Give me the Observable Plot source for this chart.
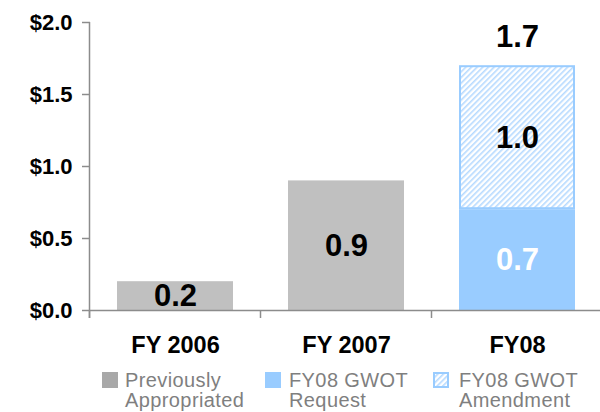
<!DOCTYPE html>
<html><head><meta charset="utf-8">
<script src="https://cdn.jsdelivr.net/npm/d3@7"></script>
<script src="https://cdn.jsdelivr.net/npm/@observablehq/plot@0.6"></script>
<style>
body{margin:0;background:#fff;font-family:"Liberation Sans",Arial,sans-serif;}
#wrap{position:relative;width:600px;height:412px;overflow:hidden;}
#legend{position:absolute;left:0;top:362px;width:600px;height:50px;}
.sw{position:absolute;width:16px;height:16px;top:10px;}
.lt{position:absolute;top:8px;font-size:20px;line-height:20px;letter-spacing:0.4px;color:#7f7f7f;white-space:nowrap;}
</style></head><body>
<div id="wrap"><div id="chart"></div><div id="legend"></div></div>
<script>
// ---- data ----
const categories = ["FY 2006", "FY 2007", "FY08"];
const seriesNames = ["Previously Appropriated", "FY08 GWOT Request", "FY08 GWOT Amendment"];
const previouslyAppropriated = [0.2, 0.9, 0];
const gwotRequest = [0, 0, 0.7];
const gwotAmendment = [0, 0, 1.0];
const totalCategories = ["FY08"];
const totalValues = [1.7];
const yTicks = [0, 0.5, 1.0, 1.5, 2.0];
const legendLines = [["Previously", "Appropriated"], ["FY08 GWOT", "Request"], ["FY08 GWOT", "Amendment"]];

// ---- styles ----
const seriesFills = ["#c0c0c0", "#99ccff", "url(#hatch)"];
const seriesStrokes = ["#c0c0c0", "#99ccff", "#99ccff"];
const labelColors = ["#000000", "#ffffff", "#000000"];
const legendFills = ["#a8a8a8", "#99ccff", "hatch"];
const axisGray = "#8c8c8c";

const seriesValues = [previouslyAppropriated, gwotRequest, gwotAmendment];
const data = [];
categories.forEach((c, i) => seriesNames.forEach((s, j) => data.push({
  category: c, series: s, value: seriesValues[j][i],
  fill: seriesFills[j], stroke: seriesStrokes[j], labelColor: labelColors[j]
})));
const barData = data.filter(d => d.value > 0);

const plot = Plot.plot({
  width: 600, height: 362,
  marginLeft: 90, marginRight: -3, marginTop: 22, marginBottom: 52,
  style: {fontFamily: "'Liberation Sans', Arial, sans-serif", background: "#fff", color: "#000"},
  x: {domain: categories, paddingInner: 0.32, paddingOuter: 0.16, label: null},
  y: {domain: [0, 2], label: null},
  color: {type: "identity"},
  marks: [
    Plot.barY(barData, Plot.stackY({x: "category", y: "value", fill: "fill", stroke: "stroke", strokeWidth: 2, inset: 1})),
    Plot.ruleY([0], {stroke: axisGray, strokeWidth: 1.5}),
    Plot.axisY({ticks: yTicks, tickFormat: d => "$" + d.toFixed(1), tickSize: 8, tickPadding: 10,
      fontSize: 22, fontWeight: "bold", stroke: axisGray, strokeWidth: 1.5, fill: "#000", label: null}),
    Plot.axisX({tickSize: 0, tickPadding: 26, fontSize: 23.5, fontWeight: "bold", fill: "#000", label: null}),
    Plot.text(barData, Plot.stackY({x: "category", y: "value", text: d => d.value.toFixed(1),
      fill: "labelColor", fontSize: 31, fontWeight: "bold"})),
    Plot.text(totalValues, {x: totalCategories, y: d => d, text: d => d.toFixed(1), dy: -29,
      fill: "#000000", fontSize: 31, fontWeight: "bold"})
  ]
});

// hatch pattern
const svg = d3.select(plot);
const defs = svg.insert("defs", ":first-child");
const pat = defs.append("pattern").attr("id", "hatch").attr("patternUnits", "userSpaceOnUse")
  .attr("width", 4).attr("height", 4).attr("patternTransform", "rotate(45)");
pat.append("rect").attr("width", 4).attr("height", 4).attr("fill", "#ffffff");
pat.append("rect").attr("width", 1.6).attr("height", 4).attr("fill", "#b6daff");

// band-boundary ticks and y axis line, from the scales
const xs = plot.scale("x"), ys = plot.scale("y");
const half = (xs.step - xs.bandwidth) / 2;
const bounds = categories.map(c => xs.apply(c) - half);
bounds.push(xs.apply(categories[categories.length - 1]) + xs.bandwidth + half);
const y0 = ys.apply(0);
const g = svg.append("g").attr("stroke", axisGray).attr("stroke-width", 1.5);
g.selectAll("line.b").data(bounds).join("line").attr("class", "b")
  .attr("x1", d => d).attr("x2", d => d).attr("y1", y0).attr("y2", y0 + 8);
g.append("line").attr("x1", bounds[0]).attr("x2", bounds[0])
  .attr("y1", ys.apply(d3.max(yTicks))).attr("y2", y0 + 8);

document.getElementById("chart").appendChild(plot);

// legend
const legSwX = [102, 265, 433];
const legTxX = [125, 289, 459];
const leg = d3.select("#legend");
legendFills.forEach((f, i) => {
  const sw = leg.append("div").attr("class", "sw").style("left", legSwX[i] + "px");
  if (f === "hatch") {
    const s = sw.append("svg").attr("width", 16).attr("height", 16);
    s.append("rect").attr("x", 1).attr("y", 1).attr("width", 14).attr("height", 14)
      .attr("fill", "url(#hatch)").attr("stroke", "#99ccff").attr("stroke-width", 2);
  } else {
    sw.style("background", f);
  }
  leg.append("div").attr("class", "lt").style("left", legTxX[i] + "px")
    .html(legendLines[i].join("<br>"));
});
</script>
</body></html>
